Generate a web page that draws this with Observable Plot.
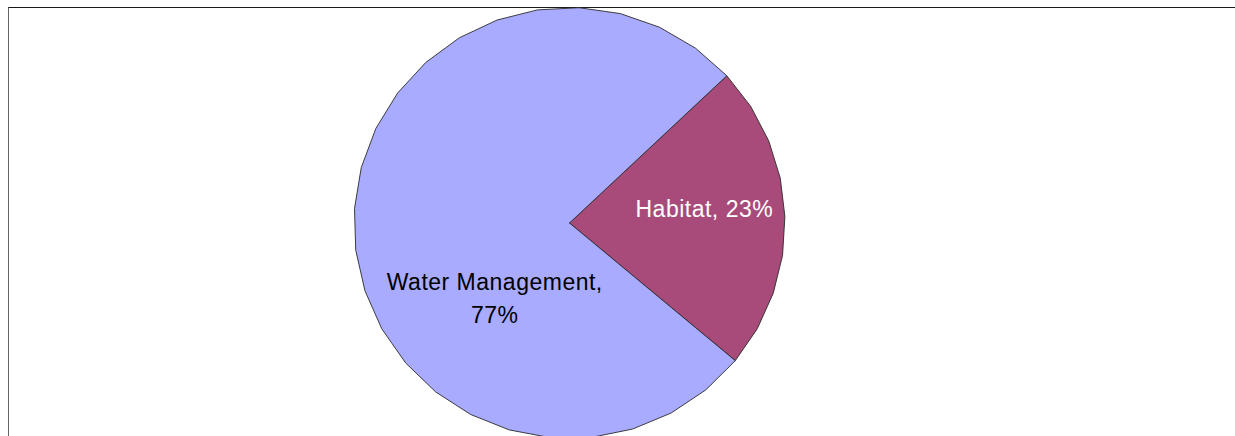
<!DOCTYPE html>
<html>
<head>
<meta charset="utf-8">
<script src="https://cdn.jsdelivr.net/npm/d3@7"></script>
<script src="https://cdn.jsdelivr.net/npm/@observablehq/plot@0.6"></script>
<style>
  html, body { margin: 0; padding: 0; background: #fff; overflow: hidden; }
  #wrap { position: relative; width: 1235px; height: 436px; overflow: hidden; }
  #frame { position: absolute; left: 8px; top: 7px; right: -20px; bottom: -20px;
           border-top: 1.5px solid #1a1a1a; border-left: 1.5px solid #666; }
  #chart { position: absolute; left: 0; top: 0; }
</style>
</head>
<body>
<div id="wrap"><div id="frame"></div><div id="chart"></div></div>
<script>
// Data
const categories = ["Habitat", "Water Management"];
const values = [23, 77];
const labels = ["Habitat, 23%", "Water Management,\n77%"];
const colors = ["#A84B7A", "#A8ABFF"];

// Layout
const W = 1235, H = 436;
const cx = 569, cy = 222.5, R = 215.5;
const start = 46.9 * Math.PI / 180;
const facet = 2 * Math.PI / 32;

const arcs = d3.pie().sort(null).startAngle(start).endAngle(start + 2 * Math.PI)(values);

const points = [];
arcs.forEach((a, i) => {
  const cat = categories[i];
  points.push({cat, x: 0, y: 0});
  const span = a.endAngle - a.startAngle;
  const n = Math.max(1, Math.ceil(span / facet));
  for (let k = 0; k <= n; k++) {
    const t = a.startAngle + span * k / n;
    points.push({cat, x: Math.sin(t), y: Math.cos(t)});
  }
  points.push({cat, x: 0, y: 0});
});

const labelData = arcs.map((a, i) => {
  const mid = (a.startAngle + a.endAngle) / 2;
  const r = i === 0 ? 0.626 : 0.347;
  return {cat: categories[i], label: labels[i], x: r * Math.sin(mid), y: r * Math.cos(mid)};
});

const plot = Plot.plot({
  width: W,
  height: H,
  margin: 0,
  style: {fontFamily: "'Liberation Sans', Arial, sans-serif", letterSpacing: "0.5px", background: "transparent", overflow: "visible"},
  x: {domain: [-cx / R, (W - cx) / R], axis: null},
  y: {domain: [-(H - cy) / R, cy / R], axis: null},
  color: {domain: categories, range: colors},
  marks: [
    Plot.line(points, {x: "x", y: "y", z: "cat", fill: "cat", stroke: "#2a2a2a", strokeWidth: 0.9, curve: "linear", strokeLinejoin: "round"}),
    Plot.text(labelData.filter(d => d.cat === "Habitat"), {x: "x", y: "y", text: "label", fill: "white", fontSize: 23, dy: -9.7, textAnchor: "middle"}),
    Plot.text(labelData.filter(d => d.cat === "Water Management"), {x: "x", y: "y", text: "label", fill: "black", fontSize: 23, lineHeight: 1.435, dy: 70.4, textAnchor: "middle"})
  ]
});
document.getElementById("chart").appendChild(plot);
</script>
</body>
</html>
